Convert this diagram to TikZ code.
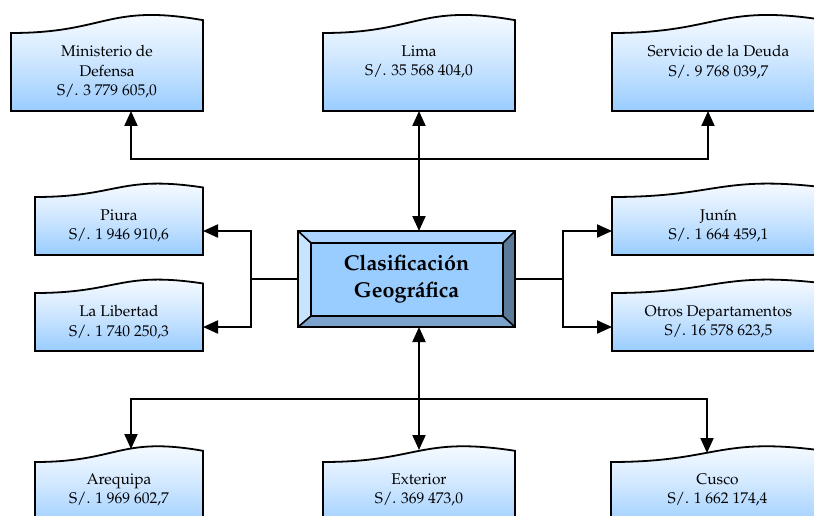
\documentclass[tikz,border=0pt]{standalone}
\usepackage[T1]{fontenc}
\renewcommand{\rmdefault}{ppl}
\usetikzlibrary{arrows.meta,calc}
\definecolor{boxblue}{HTML}{99CCFF}
\definecolor{bvtop}{HTML}{AAD4FF}
\definecolor{bvleft}{HTML}{C8E3FF}
\definecolor{bvright}{HTML}{5B7B9B}
\definecolor{bvbottom}{HTML}{7BA3CC}
\tikzset{
  wbox/.style={draw=none, inner sep=0pt, outer sep=0pt, anchor=north west},
  txt/.style={anchor=north, inner sep=0pt, align=center, font=\fontsize{15.5}{19.5}\selectfont},
  conn/.style={line width=2pt, line join=miter},
  arr/.style={conn, -{Triangle[width=13pt,length=15pt]}},
  arrs/.style={conn, {Triangle[width=13pt,length=15pt]}-{Triangle[width=13pt,length=15pt]}},
  bevel/.style={draw=black, line width=1.6pt, line join=miter},
}
\newcommand\wshape[1]{%
  \path[draw=black, line width=1.8pt, line join=miter, top color=white, bottom color=boxblue, middle color=boxblue!45!white]
    let \p1=(#1.north west), \p2=(#1.south east), \n1={(\y1-\y2)/0.802} in
    (\x1,\y2) -- (\x1,\y1)
    .. controls ({0.5*(\x1+\x2)},\y1) and ({0.5*(\x1+\x2)},{\y1+0.306*\n1*1pt}) ..
    (\x2,{\y1+0.132*\n1*1pt}) -- (\x2,\y2) -- cycle;}
\begin{document}
\begin{tikzpicture}[x=1pt,y=-1pt]
\useasboundingbox (0,0) rectangle (814,516);
\clip (0,0) rectangle (814,516);
\fill[white] (0,0) rectangle (814,516);

% box nodes
\node[wbox, minimum width=192pt, minimum height=78pt] (mindef) at (11,33) {};
\node[wbox, minimum width=192pt, minimum height=78pt] (lima) at (323,33) {};
\node[wbox, minimum width=213pt, minimum height=78pt] (serv) at (612,33) {};
\node[wbox, minimum width=168pt, minimum height=58pt] (piura) at (35,197) {};
\node[wbox, minimum width=168pt, minimum height=58pt] (lalib) at (35,293) {};
\node[wbox, minimum width=213pt, minimum height=58pt] (junin) at (612,197) {};
\node[wbox, minimum width=213pt, minimum height=58pt] (otros) at (612,293) {};
\node[wbox, minimum width=168pt, minimum height=68pt] (areq) at (35,462) {};
\node[wbox, minimum width=192pt, minimum height=68pt] (exter) at (323,462) {};
\node[wbox, minimum width=213pt, minimum height=68pt] (cusco) at (611,462) {};

\foreach \b in {mindef,lima,serv,piura,lalib,junin,otros,areq,exter,cusco} {\wshape{\b}}

\node[txt] (mindef-t) at ([yshift=-12.5pt]mindef.north) {Ministerio de\\Defensa\\S/. 3 779 605,0};
\node[txt] (lima-t) at ([yshift=-12.5pt]lima.north) {Lima\\S/. 35 568 404,0};
\node[txt] (serv-t) at ([yshift=-12.5pt]serv.north) {Servicio de la Deuda\\S/. 9 768 039,7};
\node[txt] (piura-t) at ([yshift=-12.5pt]piura.north) {Piura\\S/. 1 946 910,6};
\node[txt] (lalib-t) at ([yshift=-12.5pt]lalib.north) {La Libertad\\S/. 1 740 250,3};
\node[txt] (junin-t) at ([yshift=-12.5pt]junin.north) {Jun\'{\i}n\\S/. 1 664 459,1};
\node[txt] (otros-t) at ([yshift=-12.5pt]otros.north) {Otros Departamentos\\S/. 16 578 623,5};
\node[txt] (areq-t) at ([yshift=-11.5pt]areq.north) {Arequipa\\S/. 1 969 602,7};
\node[txt] (exter-t) at ([yshift=-11.5pt]exter.north) {Exterior\\S/. 369 473,0};
\node[txt] (cusco-t) at ([yshift=-11.5pt]cusco.north) {Cusco\\S/. 1 662 174,4};

% central bevel box
\node[wbox, minimum width=217pt, minimum height=96pt] (cg) at (298,231) {};
\coordinate (iTL) at ($(cg.north west)+(13,12)$);
\coordinate (iTR) at ($(cg.north east)+(-12,12)$);
\coordinate (iBR) at ($(cg.south east)+(-12,-11)$);
\coordinate (iBL) at ($(cg.south west)+(13,-11)$);
\fill[bvtop] (cg.north west) -- (cg.north east) -- (iTR) -- (iTL) -- cycle;
\fill[bvright] (cg.north east) -- (cg.south east) -- (iBR) -- (iTR) -- cycle;
\fill[bvbottom] (cg.south east) -- (cg.south west) -- (iBL) -- (iBR) -- cycle;
\fill[bvleft] (cg.south west) -- (cg.north west) -- (iTL) -- (iBL) -- cycle;
\fill[boxblue] (iTL) rectangle (iBR);
\draw[bevel] (cg.north west) rectangle (cg.south east);
\draw[bevel] (iTL) rectangle (iBR);
\draw[bevel] (cg.north west) -- (iTL) (cg.north east) -- (iTR) (cg.south east) -- (iBR) (cg.south west) -- (iBL);
\node[align=center, inner sep=0pt, font=\bfseries\fontsize{21.5}{27}\selectfont] (cg-t) at (cg.center) {Clasificaci\'on\\Geogr\'afica};

% connectors
\coordinate (tbL) at (131,159);
\coordinate (tbR) at (708,159);
\draw[arrs] (lima.south) -- (lima.south |- cg.north);
\draw[arrs] (tbL |- mindef.south) -- (tbL) -- (tbR) -- (tbR |- serv.south);

\coordinate (mlT) at (251,231);
\coordinate (mlB) at (251,327);
\draw[arrs] (mlT -| piura.east) -- (mlT) -- (mlB) -- (mlB -| lalib.east);
\draw[conn] (cg.west) -- (cg.west -| mlT);

\coordinate (mrT) at (563,231);
\coordinate (mrB) at (563,327);
\draw[arrs] (mrT -| junin.west) -- (mrT) -- (mrB) -- (mrB -| otros.west);
\draw[conn] (cg.east) -- (cg.east -| mrT);

\coordinate (bbL) at (131,399);
\coordinate (bbR) at (707,399);
\draw[arrs] (lima.south |- cg.south) -- ($(exter.north)+(0,-12)$);
\draw[arrs] ($(areq.north west)+(96,-13)$) -- (bbL) -- (bbR) -- ($(cusco.north west)+(96,-9)$);
\end{tikzpicture}
\end{document}
